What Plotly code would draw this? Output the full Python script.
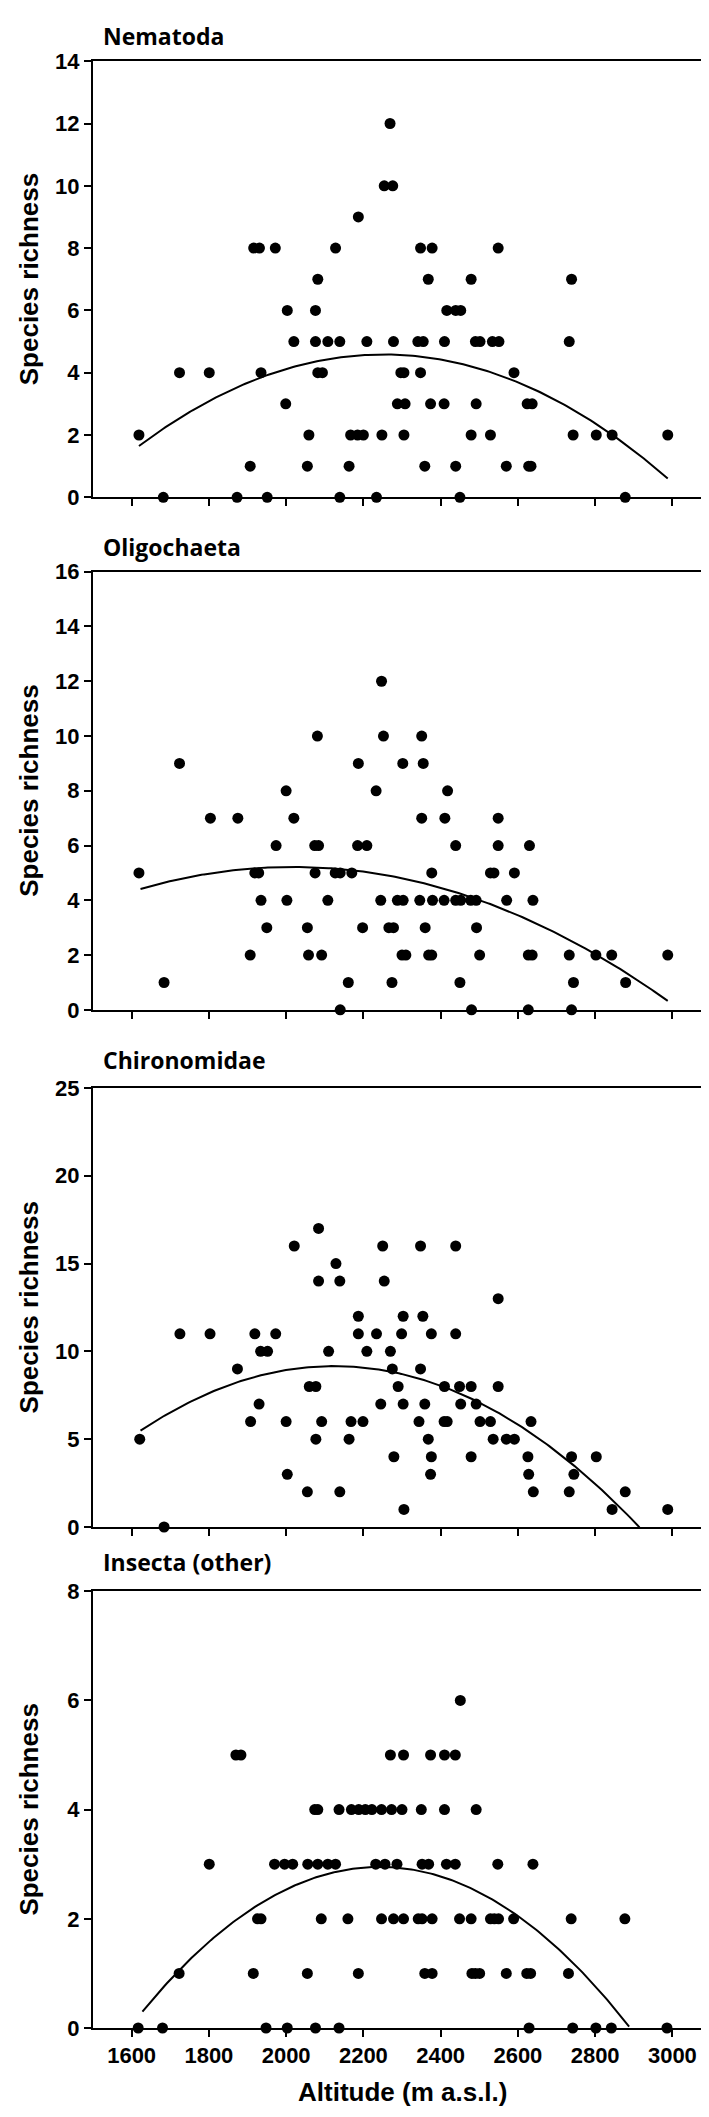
import numpy as np
import plotly.graph_objects as go
from plotly.subplots import make_subplots

# ---------------- data ----------------
titles = ["Nematoda", "Oligochaeta", "Chironomidae", "Insecta (other)"]
y_max = [14, 16, 25, 8]
y_dtick = [2, 2, 5, 2]
x_ticks = [1600, 1800, 2000, 2200, 2400, 2600, 2800, 3000]
x_range = [1500, 3100]

nema_alt = [2269,
            2254, 2276,
            2187,
            1916, 1931, 1972, 2128, 2348, 2378, 2549,
            2082, 2368, 2479, 2739,
            2003, 2076, 2416, 2439, 2452,
            2020, 2076, 2108, 2139, 2209, 2278, 2341, 2355, 2410, 2490, 2502, 2534, 2551, 2733,
            1724, 1801, 1935, 2082, 2094, 2297, 2305, 2348, 2590,
            1999, 2288, 2308, 2374, 2409, 2492, 2624, 2637,
            1619, 2059, 2167, 2185, 2200, 2248, 2305, 2479, 2529, 2743, 2803, 2844, 2988,
            1907, 2055, 2163, 2359, 2439, 2570, 2628, 2634,
            1682, 1873, 1951, 2139, 2234, 2450, 2878]
nema_val = [12,
            10, 10,
            9,
            8, 8, 8, 8, 8, 8, 8,
            7, 7, 7, 7,
            6, 6, 6, 6, 6,
            5, 5, 5, 5, 5, 5, 5, 5, 5, 5, 5, 5, 5, 5,
            4, 4, 4, 4, 4, 4, 4, 4, 4,
            3, 3, 3, 3, 3, 3, 3, 3,
            2, 2, 2, 2, 2, 2, 2, 2, 2, 2, 2, 2, 2,
            1, 1, 1, 1, 1, 1, 1, 1,
            0, 0, 0, 0, 0, 0, 0]

olig_alt = [2247,
            2081, 2252, 2351,
            1724, 2187, 2302, 2355,
            2000, 2233, 2418,
            1804, 1875, 2020, 2351, 2411, 2549,
            1974, 2074, 2084, 2185, 2209, 2439, 2549, 2630,
            1619, 1919, 1929, 2075, 2127, 2140, 2170, 2377, 2529, 2538, 2591,
            1935, 2002, 2108, 2245, 2288, 2303, 2346, 2379, 2409, 2439, 2452, 2478, 2492, 2571, 2639,
            1950, 2055, 2198, 2266, 2278, 2360, 2493,
            1907, 2058, 2092, 2300, 2310, 2369, 2377, 2501, 2627, 2637, 2733, 2802, 2843, 2988,
            1684, 2161, 2274, 2450, 2744, 2879,
            2140, 2480, 2627, 2739]
olig_val = [12,
            10, 10, 10,
            9, 9, 9, 9,
            8, 8, 8,
            7, 7, 7, 7, 7, 7,
            6, 6, 6, 6, 6, 6, 6, 6,
            5, 5, 5, 5, 5, 5, 5, 5, 5, 5, 5,
            4, 4, 4, 4, 4, 4, 4, 4, 4, 4, 4, 4, 4, 4, 4,
            3, 3, 3, 3, 3, 3, 3,
            2, 2, 2, 2, 2, 2, 2, 2, 2, 2, 2, 2, 2, 2,
            1, 1, 1, 1, 1, 1,
            0, 0, 0, 0]

chir_alt = [2084,
            2021, 2250, 2348, 2439,
            2129,
            2084, 2139, 2254,
            2549,
            2187, 2303, 2354,
            1725, 1803, 1919, 1973, 2187, 2234, 2299, 2376, 2439,
            1934, 1952, 2110, 2209, 2270,
            1874, 2275, 2348,
            2060, 2077, 2290, 2410, 2449, 2479, 2549,
            1930, 2245, 2303, 2359, 2452, 2492,
            1908, 2000, 2092, 2168, 2199, 2344, 2409, 2417, 2502, 2529, 2634,
            1621, 2077, 2163, 2368, 2536, 2570, 2591,
            2279, 2376, 2479, 2626, 2739, 2803,
            2003, 2374, 2628, 2745,
            2055, 2139, 2640, 2733, 2878,
            2305, 2844, 2988,
            1684]
chir_val = [17,
            16, 16, 16, 16,
            15,
            14, 14, 14,
            13,
            12, 12, 12,
            11, 11, 11, 11, 11, 11, 11, 11, 11,
            10, 10, 10, 10, 10,
            9, 9, 9,
            8, 8, 8, 8, 8, 8, 8,
            7, 7, 7, 7, 7, 7,
            6, 6, 6, 6, 6, 6, 6, 6, 6, 6, 6,
            5, 5, 5, 5, 5, 5, 5,
            4, 4, 4, 4, 4, 4,
            3, 3, 3, 3,
            2, 2, 2, 2, 2,
            1, 1, 1,
            0]

inse_alt = [2451,
            1870, 1883, 2270, 2304, 2374, 2410, 2438,
            2074, 2082, 2137, 2169, 2188, 2205, 2222, 2247, 2273, 2300, 2350, 2410, 2492,
            1801, 1970, 1996, 2017, 2056, 2082, 2108, 2128, 2232, 2256, 2287, 2352, 2369, 2415, 2438, 2548, 2639,
            1926, 1935, 2091, 2160, 2247, 2278, 2304, 2342, 2352, 2378, 2449, 2479, 2529, 2539, 2550, 2589, 2738, 2877,
            1723, 1915, 2055, 2187, 2359, 2378, 2481, 2490, 2501, 2570, 2623, 2633, 2731,
            1617, 1680, 1948, 2003, 2076, 2137, 2629, 2742, 2802, 2842, 2986]
inse_val = [6,
            5, 5, 5, 5, 5, 5, 5,
            4, 4, 4, 4, 4, 4, 4, 4, 4, 4, 4, 4, 4,
            3, 3, 3, 3, 3, 3, 3, 3, 3, 3, 3, 3, 3, 3, 3, 3, 3,
            2, 2, 2, 2, 2, 2, 2, 2, 2, 2, 2, 2, 2, 2, 2, 2, 2, 2,
            1, 1, 1, 1, 1, 1, 1, 1, 1, 1, 1, 1, 1,
            0, 0, 0, 0, 0, 0, 0, 0, 0, 0, 0]

# quadratic trend lines: points
nema_curve_alt = [1619, 1800, 2000, 2200, 2400, 2600, 2800, 2988]
nema_curve_val = [1.59, 3.17, 4.12, 4.56, 4.39, 3.75, 2.27, 0.66]
olig_curve_alt = [1623, 1800, 2000, 2200, 2400, 2602, 2800, 2988]
olig_curve_val = [4.42, 4.95, 5.21, 5.08, 4.57, 3.29, 2.05, 0.36]
chir_curve_alt = [1623, 1800, 2000, 2112, 2200, 2400, 2600, 2800, 2915]
chir_curve_val = [5.5, 7.6, 8.9, 9.19, 9.1, 8.07, 5.8, 2.44, 0.0]
inse_curve_alt = [1628, 1723, 1918, 2000, 2200, 2400, 2632, 2748, 2888]
inse_curve_val = [0.31, 1.04, 2.2, 2.56, 2.98, 2.7, 1.9, 1.2, 0.0]

series = [(nema_alt, nema_val, nema_curve_alt, nema_curve_val),
          (olig_alt, olig_val, olig_curve_alt, olig_curve_val),
          (chir_alt, chir_val, chir_curve_alt, chir_curve_val),
          (inse_alt, inse_val, inse_curve_alt, inse_curve_val)]

# ---------------- layout geometry (pixels) ----------------
W, H = 709, 2117
panel_px = [(41.7, 483), (558.3, 1001.7), (1080.7, 1525), (1590, 2032)]
title_y_px = [16, 533, 1052, 1560]
x_left, x_right = 85, 703
xdom = [x_left / W, x_right / W]
TICK_LEN = 7

TICKFONT = dict(family="Liberation Sans, Arial, sans-serif", size=22, color="black", weight="bold")

fig = make_subplots(rows=4, cols=1)
annotations = []

for i, (alt, val, calt, cval) in enumerate(series):
    r = i + 1
    top, bot = panel_px[i]
    ydom = [1 - bot / H, 1 - top / H]
    ymax = y_max[i]
    y_ticks = list(range(0, ymax + 1, y_dtick[i]))

    # trend curve (quadratic through the read curve points) and data points
    coef = np.polyfit(calt, cval, 2)
    xs = np.linspace(calt[0], calt[-1], 200)
    fig.add_trace(go.Scatter(x=xs, y=np.polyval(coef, xs), mode="lines",
                             line=dict(color="black", width=2), hoverinfo="skip"),
                  row=r, col=1)
    fig.add_trace(go.Scatter(x=alt, y=val, mode="markers",
                             marker=dict(color="black", size=11), cliponaxis=False),
                  row=r, col=1)

    fig.update_xaxes(domain=xdom, range=x_range, tickvals=x_ticks,
                     ticks="outside", ticklen=TICK_LEN, tickwidth=2, tickcolor="black",
                     showline=True, mirror=True, linecolor="black", linewidth=2,
                     showgrid=False, zeroline=False,
                     showticklabels=(r == 4), tickfont=TICKFONT, row=r, col=1)
    fig.update_yaxes(domain=ydom, range=[0, ymax], tickvals=y_ticks,
                     ticks="outside", ticklen=TICK_LEN, tickwidth=2, tickcolor="black",
                     showline=True, mirror=True, linecolor="black", linewidth=2,
                     showgrid=False, zeroline=False, tickfont=TICKFONT, row=r, col=1)

    annotations.append(dict(text=titles[i], xref="paper", yref="paper",
                            x=93 / W, y=1 - title_y_px[i] / H, xanchor="left", yanchor="middle",
                            showarrow=False,
                            font=dict(family="Open Sans, sans-serif", size=23, color="black",
                                      weight="bold")))
    annotations.append(dict(text="Species richness", xref="paper", yref="paper",
                            x=21 / W, y=1 - (top + bot) / 2 / H, xanchor="center",
                            yanchor="middle", textangle=-90, showarrow=False,
                            font=dict(family="Liberation Sans, Arial, sans-serif", size=26,
                                      color="black", weight="bold")))

annotations.append(dict(text="Altitude (m a.s.l.)", xref="paper", yref="paper",
                        x=(x_left + x_right) / 2 / W, y=1 - 2097 / H, xanchor="center",
                        yanchor="middle", showarrow=False,
                        font=dict(family="Liberation Sans, Arial, sans-serif", size=26,
                                  color="black", weight="bold")))
fig.update_layout(width=W, height=H, margin=dict(l=0, r=0, t=0, b=0),
                  paper_bgcolor="white", plot_bgcolor="white", showlegend=False,
                  annotations=annotations)
fig.write_html("out.html")
